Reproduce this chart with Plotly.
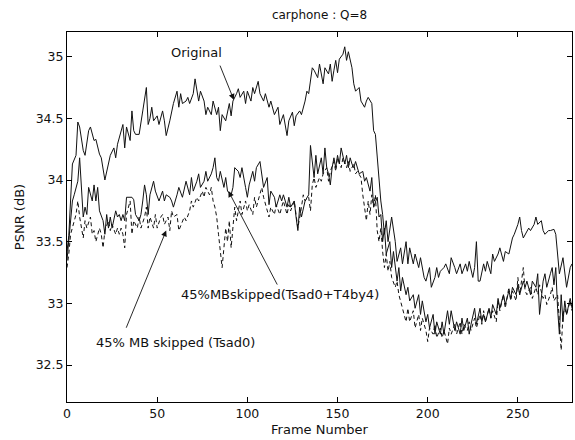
import plotly.graph_objects as go

# ---------------- data ----------------
frames_orig = [0,1,3,5,6,7,9,10,12,13,15,16,18,19,21,23,24,26,27,28,30,31,32,33,35,36,37,38,40,41,42,44,45,46,47,48,50,51,53,54,55,57,58,59,61,62,63,64,66,67,68,70,71,73,74,76,77,78,80,81,83,84,85,86,88,90,91,92,94,95,96,98,99,100,102,103,104,106,107,109,110,112,113,115,117,118,120,121,122,123,125,126,127,129,130,132,133,134,136,137,139,140,142,143,145,146,147,148,149,150,151,153,154,155,156,158,159,160,162,163,165,166,167,169,170,171,172,173,174,175,176,177,178,180,182,183,185,186,188,189,190,192,193,195,196,198,199,201,202,204,205,206,207,209,210,212,213,215,216,218,219,221,222,223,225,226,227,228,229,231,232,233,235,236,237,239,240,242,243,245,247,248,250,251,252,253,254,256,257,259,260,261,263,264,265,267,268,270,271,272,273,275,276,277,279,280]
psnr_orig = [33.42,33.55,34.13,34.2,34.47,34.43,34.24,34.2,34.4,34.43,34.32,34.33,34.21,34.18,34.0,34.15,34.2,34.26,34.18,34.29,34.4,34.45,34.26,34.43,34.32,34.56,34.4,34.37,34.37,34.48,34.56,34.75,34.45,34.5,34.59,34.48,34.52,34.45,34.56,34.48,34.36,34.48,34.56,34.62,34.72,34.59,34.7,34.62,34.64,34.67,34.62,34.7,34.82,34.64,34.72,34.64,34.53,34.59,34.53,34.64,34.53,34.59,34.4,34.53,34.48,34.62,34.52,34.64,34.7,34.74,34.67,34.72,34.62,34.72,34.64,34.75,34.7,34.8,34.7,34.64,34.7,34.59,34.64,34.53,34.59,34.45,34.53,34.44,34.36,34.48,34.55,34.44,34.52,34.56,34.53,34.64,34.72,34.7,34.91,34.89,34.83,34.94,34.78,34.91,34.86,34.94,34.8,34.89,34.97,34.87,34.98,35.02,35.08,34.97,35.04,34.91,34.78,34.72,34.75,34.64,34.59,34.64,34.67,34.62,34.4,34.37,34.18,33.99,33.83,33.72,33.56,33.67,33.5,33.7,33.5,33.34,33.45,33.32,33.5,33.32,33.45,33.32,33.4,33.29,33.37,33.21,33.18,33.29,33.13,33.21,33.29,33.21,33.26,33.29,33.32,33.24,33.37,33.29,33.24,33.32,33.24,33.32,33.26,33.34,33.21,33.29,33.5,33.18,33.18,33.32,33.26,33.34,33.24,33.4,33.34,33.4,33.45,33.34,33.42,33.4,33.53,33.56,33.64,33.7,33.59,33.53,33.56,33.61,33.59,33.64,33.7,33.64,33.67,33.59,33.56,33.59,33.59,33.6,33.56,33.37,33.24,33.37,33.26,33.13,33.29,33.32]

frames_t4 = [0,2,3,4,6,7,9,10,11,12,14,15,16,17,18,20,21,22,23,24,25,27,28,29,30,31,32,33,36,37,38,40,41,42,43,44,45,46,48,49,50,51,53,54,55,57,58,59,61,62,64,65,66,68,69,70,72,73,74,76,77,78,80,81,82,83,84,85,87,88,89,91,92,93,95,96,97,99,100,101,103,104,105,107,108,109,111,112,113,115,116,118,119,120,122,123,124,126,127,128,129,130,132,133,134,135,136,137,138,139,141,142,143,144,145,146,147,148,149,150,151,152,154,155,156,157,158,159,160,161,162,164,165,166,168,169,170,172,173,174,175,176,177,179,180,181,183,184,185,186,188,189,190,192,193,195,196,197,199,200,201,203,204,205,207,208,209,211,212,213,215,216,218,219,220,222,223,224,226,227,229,230,231,232,234,235,236,238,239,240,242,243,245,246,247,249,250,251,253,254,255,257,258,260,261,262,264,265,266,268,269,270,271,272,273,274,275,276,277,279,280]
psnr_t4 = [33.35,33.72,33.83,33.88,33.99,34.18,33.7,33.78,33.72,33.94,33.83,33.96,33.83,33.94,33.75,33.67,33.56,33.72,33.61,33.7,33.61,33.75,33.7,33.72,33.67,33.72,33.67,33.86,33.86,33.84,33.72,33.67,33.72,33.83,33.96,33.88,33.72,33.88,33.99,33.91,33.86,33.83,33.91,33.83,33.88,33.86,33.83,33.78,33.88,33.94,33.86,33.94,33.99,33.88,34.02,33.91,33.99,34.05,33.94,33.99,34.07,33.99,34.05,34.1,34.18,34.02,33.99,34.07,33.94,34.02,33.91,33.88,33.94,34.1,34.07,34.02,34.1,33.94,33.86,33.96,34.07,33.99,34.1,34.15,34.02,33.94,34.02,33.8,33.91,33.86,33.78,33.88,33.83,33.88,33.78,33.86,33.78,33.83,33.7,33.59,33.78,33.7,33.83,33.86,33.88,34.28,34.15,34.02,34.2,34.05,34.18,34.05,34.26,34.1,34.05,33.96,34.1,34.18,34.1,34.2,34.13,34.26,34.13,34.2,34.1,34.18,34.13,34.1,34.15,34.1,34.05,34.07,33.99,34.02,33.91,34.02,33.78,33.86,33.7,33.72,33.5,33.61,33.4,33.5,33.29,33.42,33.18,33.29,33.1,33.21,33.07,33.13,33.02,33.07,32.96,33.07,32.91,33.02,32.85,32.91,32.8,32.91,32.75,32.85,32.75,32.85,32.75,32.94,32.83,32.94,32.78,32.85,32.75,32.88,32.78,32.88,32.75,32.83,32.96,32.83,32.96,32.85,32.91,32.85,32.96,32.88,32.99,32.91,33.04,32.96,33.07,32.99,33.1,33.04,33.13,33.07,33.15,33.07,33.18,33.13,33.18,33.07,33.18,33.13,33.24,32.91,33.18,33.24,33.13,33.24,33.29,33.15,33.29,32.96,32.75,33.07,32.85,33.02,32.91,33.04,32.96]

frames_tsad = [0,1,2,4,5,6,7,9,10,11,13,14,15,16,18,19,20,21,23,24,25,27,28,29,30,31,32,33,35,36,37,39,40,41,43,44,45,46,48,49,50,52,53,54,56,57,58,59,61,62,64,65,66,68,69,70,72,73,75,76,77,79,80,81,82,83,84,85,86,87,88,89,90,91,92,93,94,96,97,99,100,101,103,104,105,107,108,109,111,112,113,115,116,118,119,120,122,123,124,126,127,128,130,131,132,134,135,136,137,138,140,141,142,144,145,146,148,149,150,152,153,155,156,157,159,160,161,163,164,165,166,167,168,169,170,171,172,173,174,175,176,177,178,179,180,182,183,184,185,187,188,189,190,192,193,195,196,197,199,200,201,203,204,205,207,208,209,211,212,213,215,216,218,219,220,222,223,224,226,227,229,230,231,232,234,235,236,238,239,240,242,243,245,246,247,249,250,251,253,254,255,257,258,260,261,262,264,265,266,268,269,270,272,273,274,275,276,277,279,280]
psnr_tsad = [33.29,33.4,33.56,33.67,33.72,33.83,33.7,33.53,33.67,33.61,33.7,33.56,33.59,33.5,33.61,33.56,33.45,33.59,33.67,33.59,33.64,33.56,33.61,33.56,33.61,33.56,33.45,33.72,33.83,33.56,33.67,33.61,33.7,33.61,33.7,33.78,33.61,33.7,33.61,33.72,33.61,33.7,33.72,33.64,33.7,33.59,33.75,33.7,33.72,33.59,33.67,33.7,33.67,33.75,33.83,33.78,33.86,33.83,33.91,33.86,33.94,33.88,33.94,33.83,33.78,33.7,33.56,33.42,33.29,33.45,33.61,33.5,33.67,33.45,33.61,33.78,33.67,33.83,33.72,33.83,33.75,33.8,33.72,33.86,33.78,33.88,33.94,33.86,33.75,33.7,33.78,33.72,33.8,33.72,33.78,33.83,33.72,33.8,33.75,33.83,33.72,33.61,33.78,33.88,33.83,33.86,33.75,33.96,34.02,33.94,34.02,33.99,34.05,34.1,33.99,34.07,34.15,34.07,34.18,34.1,34.18,34.1,34.15,34.07,34.13,34.05,34.07,34.02,33.88,33.78,33.67,33.83,33.72,33.88,33.78,33.88,33.59,33.5,33.61,33.42,33.29,33.4,33.26,33.34,33.21,33.13,33.18,33.07,33.02,32.91,32.85,32.96,32.85,32.94,32.8,32.91,32.78,32.88,32.78,32.69,32.8,32.75,32.83,32.72,32.8,32.72,32.78,32.67,32.8,32.75,32.83,32.75,32.85,32.75,32.83,32.78,32.85,32.78,32.88,32.8,32.91,32.83,32.94,32.85,32.96,32.88,32.94,32.85,33.02,32.94,33.07,32.96,33.13,33.02,33.1,33.02,33.21,33.07,33.29,33.1,33.07,33.13,33.04,33.13,33.07,33.15,33.04,33.07,32.99,33.07,33.13,33.02,33.07,32.85,32.62,32.91,32.96,32.91,33.02,32.94]

assert len(frames_orig) == len(psnr_orig), (len(frames_orig), len(psnr_orig))
assert len(frames_t4) == len(psnr_t4), (len(frames_t4), len(psnr_t4))
assert len(frames_tsad) == len(psnr_tsad), (len(frames_tsad), len(psnr_tsad))

x_ticks = [0, 50, 100, 150, 200, 250]
y_ticks = [32.5, 33, 33.5, 34, 34.5, 35]
y_ticklabels = ["32.5", "33", "33.5", "34", "34.5", "35"]

FONT = "DejaVu Sans"
INK = "#111111"

fig = go.Figure()
fig.add_trace(go.Scatter(x=frames_orig, y=psnr_orig, mode="lines",
                         line=dict(color=INK, width=1), name="Original"))
fig.add_trace(go.Scatter(x=frames_t4, y=psnr_t4, mode="lines",
                         line=dict(color=INK, width=1), name="45%MBskipped(Tsad0+T4by4)"))
fig.add_trace(go.Scatter(x=frames_tsad, y=psnr_tsad, mode="lines",
                         line=dict(color=INK, width=1, dash="4px,3px"), name="45% MB skipped (Tsad0)"))

axis_common = dict(showline=True, linecolor="black", linewidth=1, mirror="ticks",
                   ticks="inside", ticklen=5, tickcolor="black", tickwidth=1,
                   showgrid=False, zeroline=False,
                   tickfont=dict(family=FONT, size=12.5, color=INK))

fig.update_layout(
    width=575, height=440,
    margin=dict(l=67, r=3, t=32, b=38),
    paper_bgcolor="white", plot_bgcolor="white",
    showlegend=False,
    font=dict(family=FONT, color=INK),
    title=dict(text="carphone : Q=8", font=dict(family=FONT, size=12, color=INK),
               x=0.5, xref="paper", xanchor="center",
               y=1 - 15 / 440, yref="container", yanchor="middle"),
    xaxis=dict(range=[0, 280], tickvals=x_ticks,
               title=dict(text="Frame Number", font=dict(family=FONT, size=13, color=INK), standoff=4),
               **axis_common),
    yaxis=dict(range=[32.2, 35.2], tickvals=y_ticks, ticktext=y_ticklabels,
               title=dict(text="PSNR (dB)", font=dict(family=FONT, size=13, color=INK), standoff=8),
               **axis_common),
)

ann_font = dict(family=FONT, size=13, color=INK)
# text labels
fig.add_annotation(x=72, y=35.03, text="Original", showarrow=False, font=ann_font)
fig.add_annotation(x=118, y=33.07, text="45%MBskipped(Tsad0+T4by4)", showarrow=False, font=ann_font)
fig.add_annotation(x=60, y=32.68, text="45% MB skipped (Tsad0)", showarrow=False, font=ann_font)
# arrows
arrow_style = dict(showarrow=True, arrowhead=2, arrowsize=1.3, arrowwidth=0.9,
                   arrowcolor=INK, text="", axref="x", ayref="y", standoff=0, startstandoff=0)
fig.add_annotation(x=92.5, y=34.65, ax=84.5, ay=34.94, **arrow_style)
fig.add_annotation(x=89.5, y=33.91, ax=117, ay=33.14, **arrow_style)
fig.add_annotation(x=55, y=33.59, ax=32.5, ay=32.79, **arrow_style)

fig.write_html("out.html")
